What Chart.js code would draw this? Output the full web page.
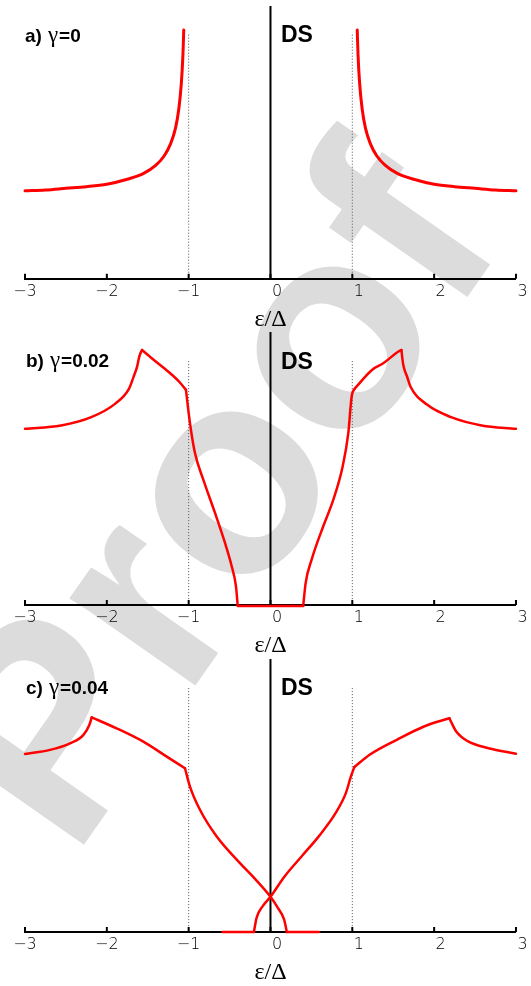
<!DOCTYPE html>
<html>
<head>
<meta charset="utf-8">
<script src="https://cdn.jsdelivr.net/npm/chart.js@4.4.0/dist/chart.umd.min.js"></script>
<style>
body { margin: 0; background: #fff; }
#page { position: relative; width: 531px; height: 986px; overflow: hidden; background: #fff; }
#page canvas { position: absolute; left: 0; }
.wm { position: absolute; left: 72px; top: 860px; transform-origin: 0 0;
      transform: rotate(-55deg) translate(0, -245px);
      font: bold 290px/1 "Liberation Sans", Arial, sans-serif; color: #dcdcdc; white-space: nowrap; }
.lbl { position: absolute; font: bold 19px/20px "Liberation Sans", Arial, sans-serif; color: #000; white-space: nowrap; }
.lbl .g { font-family: "Liberation Serif", serif; font-weight: normal; font-size: 23px; margin: 0 1px 0 6px; }
.ds { position: absolute; left: 281px; font: bold 23px/26px "Liberation Sans", Arial, sans-serif; color: #000; }
</style>
</head>
<body>
<div id="page">
  <div class="wm">Proof</div>
  <canvas id="chartA" width="531" height="340" style="top:0px"></canvas>
  <canvas id="chartB" width="531" height="340" style="top:330px"></canvas>
  <canvas id="chartC" width="531" height="335" style="top:656px"></canvas>
  <div class="lbl" style="left:25px;top:25px">a)<span class="g">γ</span>=0</div>
  <div class="ds" style="top:21px">DS</div>
  <div class="lbl" style="left:26px;top:350px">b)<span class="g">γ</span>=0.02</div>
  <div class="ds" style="top:348px">DS</div>
  <div class="lbl" style="left:26px;top:677px">c)<span class="g">γ</span>=0.04</div>
  <div class="ds" style="top:674px">DS</div>
</div>
<script>
// Tick values on the energy axis (same for every panel)
var xTicks = [-3, -2, -1, 0, 1, 2, 3];

// a) gamma = 0
var aLeftX  = [-3.0, -2.75, -2.5, -2.25, -2.0, -1.75, -1.55, -1.4, -1.3, -1.22, -1.16, -1.12, -1.09, -1.07, -1.06];
var aLeftY  = [1.06, 1.07, 1.09, 1.11, 1.14, 1.2, 1.27, 1.37, 1.48, 1.63, 1.82, 2.05, 2.35, 2.7, 3.0];
var aRightX = [1.06, 1.07, 1.09, 1.12, 1.16, 1.22, 1.3, 1.4, 1.55, 1.75, 2.0, 2.25, 2.5, 2.75, 3.0];
var aRightY = [3.0, 2.7, 2.35, 2.05, 1.82, 1.63, 1.48, 1.37, 1.27, 1.2, 1.14, 1.11, 1.09, 1.07, 1.06];
var aMax = 3.29;     // top of the zero line
var aGuide = 2.96;   // top of the dotted lines at +-1

// b) gamma = 0.02
var bLeftX  = [-3.0, -2.56, -2.19, -1.9, -1.73, -1.672, -1.63, -1.6, -1.57, -1.44, -1.24, -1.11, -1.033, -0.984, -0.923, -0.821, -0.678, -0.556, -0.474, -0.422, -0.401];
var bLeftY  = [1.06, 1.08, 1.13, 1.21, 1.30, 1.374, 1.434, 1.50, 1.534, 1.48, 1.40, 1.34, 1.294, 1.094, 0.914, 0.754, 0.554, 0.374, 0.234, 0.114, 0.0];
var bLeftKinks = [8, 12];
var bGapX   = [-0.401, 0.401];
var bGapY   = [-0.006, -0.006];
var bRightX = [0.401, 0.43, 0.503, 0.645, 0.768, 0.882, 0.951, 0.992, 1.033, 1.24, 1.378, 1.55, 1.6, 1.615, 1.627, 1.672, 1.71, 1.917, 2.207, 2.58, 3.0];
var bRightY = [0.0, 0.134, 0.274, 0.474, 0.634, 0.834, 1.034, 1.254, 1.304, 1.414, 1.454, 1.52, 1.534, 1.47, 1.434, 1.37, 1.314, 1.204, 1.13, 1.08, 1.06];
var bRightKinks = [8, 12];
var bMax = 1.642;
var bGuide = 1.47;

// c) gamma = 0.04
var cLeftX  = [-3.0, -2.695, -2.45, -2.288, -2.214, -2.185, -1.88, -1.554, -1.268, -1.045, -0.984, -0.862, -0.657, -0.373, -0.2, 0.0, 0.09, 0.166, 0.2, 0.59];
var cLeftY  = [1.059, 1.083, 1.122, 1.171, 1.231, 1.276, 1.211, 1.132, 1.043, 0.974, 0.865, 0.727, 0.568, 0.41, 0.322, 0.21, 0.144, 0.075, 0.0, 0.0];
var cLeftKinks = [5, 9, 18];
var cRightX = [3.0, 2.664, 2.415, 2.27, 2.207, 2.187, 1.876, 1.544, 1.212, 1.025, 0.983, 0.921, 0.797, 0.59, 0.382, 0.174, 0.0, -0.095, -0.17, -0.203, -0.585];
var cRightY = [1.06, 1.093, 1.133, 1.192, 1.25, 1.271, 1.222, 1.143, 1.054, 0.981, 0.925, 0.826, 0.708, 0.569, 0.451, 0.332, 0.21, 0.154, 0.085, 0.0, 0.0];
var cRightKinks = [5, 9, 19];
var cMax = 1.623;
var cGuide = 1.459;

// Pair up x and y lists into chart points
function points(xs, ys)
{
    return xs.map(function(x, i) { return {x: x, y: ys[i]}; });
}

// Split a curve at its kinks so each smooth piece can be splined on its own
function pieces(xs, ys, kinks)
{
    var pts = points(xs, ys);
    var out = [];
    var start = 0;
    (kinks || []).concat([pts.length - 1]).forEach(function(k) {
        out.push(pts.slice(start, k + 1));
        start = k;
    });
    return out;
}

// Draws the small inward tick marks on the energy axis
var innerTicks = {
    id: 'innerTicks',
    afterDraw: function(chart) {
        var s = chart.scales.x;
        var ctx = chart.ctx;
        ctx.save();
        ctx.strokeStyle = '#000';
        ctx.lineWidth = 2;
        ctx.beginPath();
        for (var i = 0; i < xTicks.length; i++) {
            var px = s.getPixelForValue(xTicks[i]);
            ctx.moveTo(px, s.top);
            ctx.lineTo(px, s.top - 5);
        }
        ctx.stroke();
        ctx.restore();
    }
};

// Red curve datasets, one per smooth piece
function redLines(parts, width)
{
    return parts.map(function(pts) {
        return {data: pts, borderColor: '#ff0000', borderWidth: width, pointRadius: 0,
                cubicInterpolationMode: 'monotone', fill: false, order: 0, clip: false,
                borderCapStyle: 'round', borderJoinStyle: 'round'};
    });
}

function makePanel(id, curves, yMax, guideTop, padTop, padBottom)
{
    var datasets = curves.slice();
    // zero energy line
    datasets.push({data: [{x: 0, y: 0}, {x: 0, y: yMax}], borderColor: '#000', borderWidth: 2,
                   pointRadius: 0, order: 1});
    // dotted guides at the gap edges
    [-1, 1].forEach(function(g) {
        datasets.push({data: [{x: g, y: 0}, {x: g, y: guideTop}], borderColor: '#555', borderWidth: 1,
                       borderDash: [1, 2], pointRadius: 0, order: 1});
    });

    return new Chart(document.getElementById(id), {
        type: 'line',
        data: {datasets: datasets},
        options: {
            responsive: false,
            animation: false,
            devicePixelRatio: 1,
            layout: {padding: {left: 25, right: 15, top: padTop, bottom: padBottom}},
            plugins: {legend: {display: false}, tooltip: {enabled: false}},
            scales: {
                x: {
                    type: 'linear', min: -3, max: 3,
                    afterBuildTicks: function(axis) {
                        axis.ticks = xTicks.map(function(v) { return {value: v}; });
                    },
                    grid: {display: true, drawOnChartArea: false, drawTicks: false},
                    border: {display: true, color: '#000', width: 2},
                    ticks: {
                        autoSkip: false, maxRotation: 0, padding: 3.4, color: '#000',
                        font: {family: 'DejaVu Sans', size: 16, weight: '200'},
                        callback: function(v) {
                            return v < 0 ? '\u2212' + Math.abs(v) : '\u2002 ' + v;
                        }
                    },
                    title: {display: true, text: 'ε/Δ', color: '#000',
                            font: {family: 'Liberation Serif', size: 24},
                            padding: {top: 0.2, bottom: 0}}
                },
                y: {type: 'linear', display: false, min: 0, max: yMax}
            }
        },
        plugins: [innerTicks]
    });
}

makePanel('chartA', redLines([points(aLeftX, aLeftY), points(aRightX, aRightY)], 3),
          aMax, aGuide, 6, 6.3);
makePanel('chartB', redLines(pieces(bLeftX, bLeftY, bLeftKinks)
                             .concat([points(bGapX, bGapY)])
                             .concat(pieces(bRightX, bRightY, bRightKinks)), 2.5),
          bMax, bGuide, 2, 9.9);
makePanel('chartC', redLines(pieces(cLeftX, cLeftY, cLeftKinks)
                             .concat(pieces(cRightX, cRightY, cRightKinks)), 2.5),
          cMax, cGuide, 3, 3.9);
</script>
</body>
</html>
